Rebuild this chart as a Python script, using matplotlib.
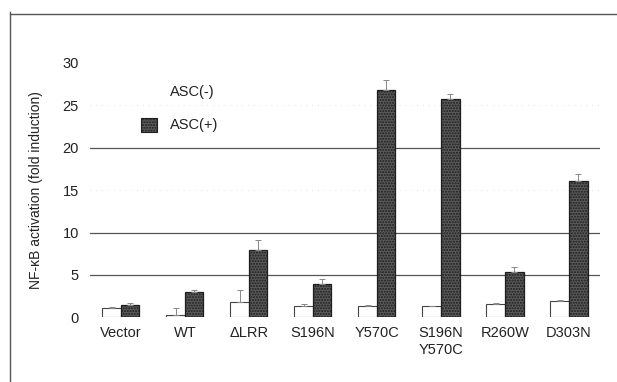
import matplotlib
matplotlib.use("Agg")
import matplotlib.pyplot as plt
import numpy as np
from matplotlib.lines import Line2D
from matplotlib.patches import Rectangle

plt.rcParams['font.family'] = ['Liberation Sans', 'DejaVu Sans']
plt.rcParams['hatch.color'] = "#3c3c3c"

categories = ["Vector", "WT", "\u0394LRR", "S196N", "Y570C", "S196N\nY570C", "R260W", "D303N"]
asc_minus = [1.1, 0.3, 1.8, 1.4, 1.4, 1.3, 1.6, 1.9]
asc_minus_err = [0.1, 0.8, 1.4, 0.2, 0.1, 0.1, 0.1, 0.1]
asc_plus = [1.5, 3.0, 7.9, 3.9, 26.8, 25.7, 5.4, 16.1]
asc_plus_err = [0.2, 0.2, 1.2, 0.6, 1.1, 0.6, 0.5, 0.8]
y_ticks = [0, 5, 10, 15, 20, 25, 30]

fig = plt.figure(figsize=(6.17, 3.82), dpi=100)
ax = fig.add_axes([0.146, 0.169, 0.826, 0.667])

x = np.arange(len(categories))
w = 0.29

# horizontal reference lines (15 and 25 are only faintly printed)
for yv in y_ticks[1:-1]:
    if yv in (15, 25):
        ax.axhline(yv, color="#d8d8d8", lw=0.6, ls=(0, (1, 6)), zorder=0)
    else:
        ax.axhline(yv, color="#555555", lw=0.9, zorder=0)

ax.bar(x - w / 2, asc_minus, w, color="white", edgecolor="#444444", lw=0.8, zorder=2)
ax.bar(x + w / 2, asc_plus, w, color="#5a5a5a", edgecolor="#1e1e1e", lw=0.9,
       hatch="......", zorder=2)

zeros = np.zeros(len(x))
ax.errorbar(x - w / 2, asc_minus, yerr=[zeros, asc_minus_err], fmt="none",
            ecolor="#888888", elinewidth=0.7, capsize=2.5, capthick=0.7, zorder=3)
ax.errorbar(x + w / 2, asc_plus, yerr=[zeros, asc_plus_err], fmt="none",
            ecolor="#888888", elinewidth=0.7, capsize=2.5, capthick=0.7, zorder=3)

ax.set_xlim(-0.48, 7.48)
ax.set_ylim(0, 30)
ax.set_yticks(y_ticks)
ax.set_xticks(x)
ax.set_xticklabels(categories, fontsize=10.5, linespacing=1.3)
ax.tick_params(axis="both", length=0, labelsize=10.5, colors="#222222")
ax.tick_params(axis="y", pad=8)
ax.tick_params(axis="x", pad=6)
for s in ax.spines.values():
    s.set_visible(False)

ax.set_ylabel("NF-\u03baB activation (fold induction)", fontsize=10, color="#222222", labelpad=14)

# legend
fig.text(170 / 617, 1 - 92 / 382, "ASC(-)", fontsize=10.5, va="center", ha="left", color="#222222")
fig.text(170 / 617, 1 - 125 / 382, "ASC(+)", fontsize=10.5, va="center", ha="left", color="#222222")
fig.patches.append(Rectangle((141 / 617, 1 - 132 / 382), 16 / 617, 14 / 382,
                             transform=fig.transFigure, facecolor="#5a5a5a",
                             edgecolor="#1e1e1e", lw=0.8, hatch="......"))

# page frame lines
fig.add_artist(Line2D([10 / 617, 1.0], [1 - 14 / 382, 1 - 14 / 382],
                      transform=fig.transFigure, color="#555555", lw=1.0))
fig.add_artist(Line2D([10 / 617, 10 / 617], [0.0, 1 - 12 / 382],
                      transform=fig.transFigure, color="#555555", lw=1.0))

fig.savefig("out.png", dpi=100)
